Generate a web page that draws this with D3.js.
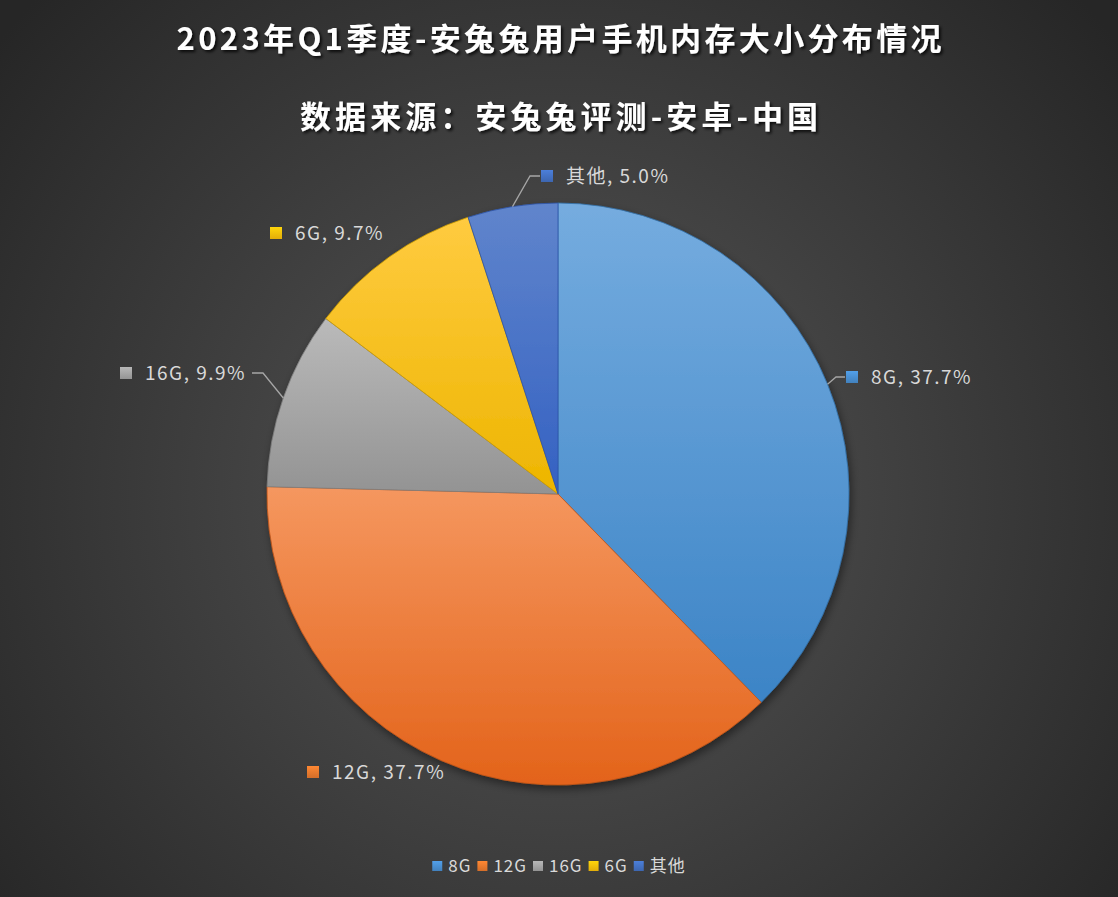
<!DOCTYPE html>
<html><head><meta charset="utf-8">
<script src="https://cdn.jsdelivr.net/npm/d3@7/dist/d3.min.js"></script>
<style>
html,body{margin:0;padding:0;background:#333;}
svg{display:block;}
</style></head>
<body>
<svg id="chart" width="1118" height="897"></svg>
<script>
// ---- data ----
const categories = ["8G", "12G", "16G", "6G", "其他"];
const shares = [37.7, 37.7, 9.9, 9.7, 5.0];
const titleLines = ["2023年Q1季度-安兔兔用户手机内存大小分布情况", "数据来源：安兔兔评测-安卓-中国"];

// ---- styles / layout ----
const W = 1118, H = 897;
const cx = 558, cy = 494, R = 291;
const colorsLight = ["#75acdf", "#f5975f", "#bababa", "#ffcb40", "#6085cc"];
const colorsDark  = ["#3c84c6", "#e3631a", "#939393", "#edb500", "#3461c2"];
const swatch      = ["#4a90d2", "#ec7a2e", "#a5a5a5", "#fbc00a", "#4472c4"];
const FONT = "'Noto Sans CJK SC','Noto Sans',sans-serif";
// label placement (square left x, centre y) and leader elbows, per category
const labelLayout = [
  {sx: 846, cyL: 377, leader: true,  elbow: [836, 377], end: [845, 377]},
  {sx: 307, cyL: 772, leader: false},
  {sx: 120, cyL: 373, leader: true,  elbow: [263, 373], end: [252, 373]},
  {sx: 270, cyL: 233, leader: false},
  {sx: 541, cyL: 176, leader: true,  elbow: [530, 176], end: [540, 176]}
];

const svg = d3.select("#chart");
const defs = svg.append("defs");

// background radial gradient
const bg = defs.append("radialGradient").attr("id", "bg")
  .attr("gradientUnits", "userSpaceOnUse")
  .attr("cx", cx).attr("cy", cy).attr("r", 720);
bg.append("stop").attr("offset", "0").attr("stop-color", "#575757");
bg.append("stop").attr("offset", "1").attr("stop-color", "#262626");
svg.append("rect").attr("width", W).attr("height", H).attr("fill", "url(#bg)");

// slice gradients
categories.forEach((c, i) => {
  const g = defs.append("linearGradient").attr("id", "g" + i)
    .attr("x1", 0).attr("y1", 0).attr("x2", 0).attr("y2", 1);
  g.append("stop").attr("offset", 0).attr("stop-color", colorsLight[i]);
  g.append("stop").attr("offset", 1).attr("stop-color", colorsDark[i]);
  const s = defs.append("linearGradient").attr("id", "s" + i)
    .attr("x1", 0).attr("y1", 0).attr("x2", 0).attr("y2", 1);
  s.append("stop").attr("offset", 0).attr("stop-color", d3.color(swatch[i]).brighter(0.3));
  s.append("stop").attr("offset", 1).attr("stop-color", d3.color(swatch[i]).darker(0.3));
});

const shadow = defs.append("filter").attr("id", "shadow")
  .attr("x", "-20%").attr("y", "-20%").attr("width", "140%").attr("height", "140%");
shadow.append("feDropShadow").attr("dx", 2).attr("dy", 4).attr("stdDeviation", 4)
  .attr("flood-color", "#000").attr("flood-opacity", 0.45);

const tshadow = defs.append("filter").attr("id", "tshadow")
  .attr("x", "-10%").attr("y", "-30%").attr("width", "120%").attr("height", "160%");
tshadow.append("feDropShadow").attr("dx", 2).attr("dy", 2).attr("stdDeviation", 1.5)
  .attr("flood-color", "#000").attr("flood-opacity", 0.8);

// title
const titleSizes = [{y: 50, w: 765}, {y: 128, w: 518}];
titleLines.forEach((t, i) => {
  svg.append("text")
    .attr("x", cx + 1).attr("y", titleSizes[i].y)
    .attr("text-anchor", "middle")
    .attr("font-family", FONT).attr("font-weight", "bold").attr("font-size", 31)
    .attr("textLength", titleSizes[i].w).attr("lengthAdjust", "spacing")
    .attr("fill", "#ffffff").attr("filter", "url(#tshadow)")
    .text(t);
});

// pie
const pie = d3.pie().sort(null).value(d => d)(shares);
const arc = d3.arc().innerRadius(0).outerRadius(R);
const gPie = svg.append("g").attr("transform", `translate(${cx},${cy})`);
gPie.append("g").attr("filter", "url(#shadow)")
  .selectAll("path").data(pie).join("path")
  .attr("d", arc)
  .attr("fill", (d, i) => `url(#g${i})`)
  .attr("stroke", (d, i) => d3.color(colorsDark[i]).darker(0.4))
  .attr("stroke-width", 0.8)
  .attr("stroke-linejoin", "round");

// labels
const gLab = svg.append("g");
pie.forEach((d, i) => {
  const L = labelLayout[i];
  const mid = (d.startAngle + d.endAngle) / 2;
  if (L.leader) {
    const ex = cx + R * Math.sin(mid), ey = cy - R * Math.cos(mid);
    gLab.append("polyline")
      .attr("points", [[ex, ey], L.elbow, L.end].map(p => p.join(",")).join(" "))
      .attr("fill", "none").attr("stroke", "#a6a6a6").attr("stroke-width", 1.3);
  }
  gLab.append("rect").attr("x", L.sx).attr("y", L.cyL - 6).attr("width", 12).attr("height", 12)
    .attr("fill", `url(#s${i})`);
  gLab.append("text").attr("x", L.sx + 25).attr("y", L.cyL + 7)
    .attr("font-family", FONT).attr("font-size", 19).attr("letter-spacing", 1.5)
    .attr("fill", "#d9d9d9")
    .text(`${categories[i]}, ${d3.format(".1f")(shares[i])}%`);
});

// legend
const gLeg = svg.append("g");
let x = 0;
categories.forEach((c, i) => {
  const it = gLeg.append("g");
  it.append("rect").attr("x", 0).attr("y", -5).attr("width", 10).attr("height", 10)
    .attr("fill", `url(#s${i})`);
  const t = it.append("text").attr("x", 16).attr("y", 6)
    .attr("font-family", FONT).attr("font-size", 17).attr("letter-spacing", 1)
    .attr("fill", "#d9d9d9").text(c);
  const w = 16 + t.node().getComputedTextLength();
  it.attr("transform", `translate(${x},0)`);
  x += w + 6;
});
const legW = x - 6;
gLeg.attr("transform", `translate(${559 - legW / 2},866)`);
</script>
</body></html>
